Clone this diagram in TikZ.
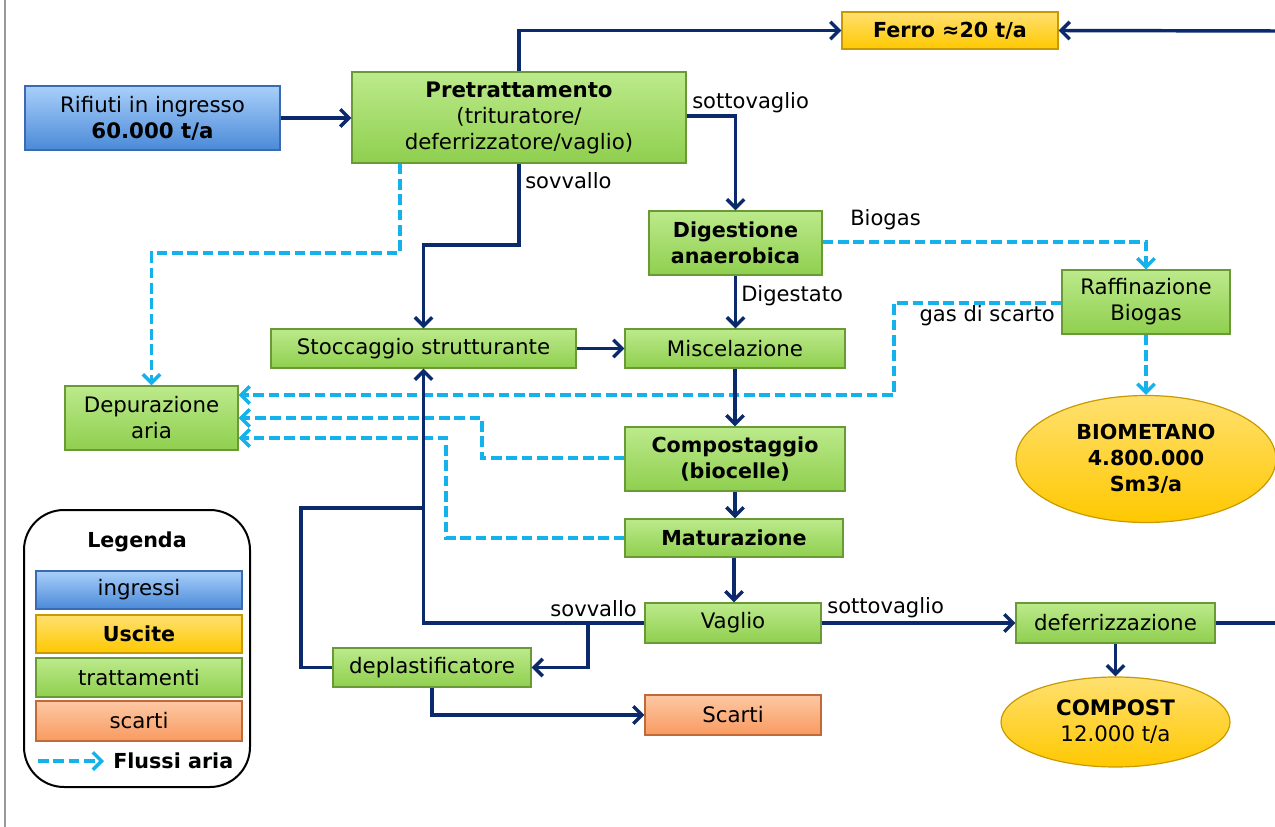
\documentclass[tikz,border=0pt]{standalone}
\usepackage{fontspec}
\setmainfont{DejaVu Sans}
\usetikzlibrary{arrows.meta,shapes.geometric,shadings}
\definecolor{gTop}{HTML}{BCEA8C}
\definecolor{gBot}{HTML}{8FCF4E}
\definecolor{gDraw}{HTML}{6A9A36}
\definecolor{bTop}{HTML}{A9CFFA}
\definecolor{bBot}{HTML}{4A8AD8}
\definecolor{bDraw}{HTML}{3A6AB0}
\definecolor{yTop}{HTML}{FFE070}
\definecolor{yBot}{HTML}{FFC800}
\definecolor{yDraw}{HTML}{C89A00}
\definecolor{oTop}{HTML}{FDC8A4}
\definecolor{oBot}{HTML}{F99A60}
\definecolor{oDraw}{HTML}{C06A3A}
\definecolor{navy}{HTML}{0A2A6B}
\definecolor{airc}{HTML}{14B1EB}
\begin{document}
\begin{tikzpicture}[x=0.75pt,y=-0.75pt,
  font=\fontsize{16}{19.5}\selectfont,
  wh/.style 2 args={minimum width=#1*0.75pt, minimum height=#2*0.75pt},
  box/.style={rectangle, inner sep=1pt, align=center, line width=0.9pt},
  gbox/.style={box, draw=gDraw, top color=gTop, bottom color=gBot},
  bbox/.style={box, draw=bDraw, top color=bTop, bottom color=bBot},
  ybox/.style={box, draw=yDraw, top color=yTop, bottom color=yBot},
  obox/.style={box, draw=oDraw, top color=oTop, bottom color=oBot},
  yell/.style={ellipse, inner sep=0pt, align=center, draw=yDraw, line width=0.9pt, top color=yTop, bottom color=yBot},
  bft/.style={font=\fontsize{15.5}{19.5}\selectfont\bfseries},
  flowline/.style={draw=navy, line width=2.6pt},
  flow/.style={flowline, -{Straight Barb[length=6.5pt,width=13pt]}},
  air/.style={draw=airc, line width=2.6pt, dash pattern=on 8pt off 3.5pt, -{Straight Barb[length=6.5pt,width=13pt]}},
  lbl/.style={inner sep=0pt, font=\fontsize{15.8}{18}\selectfont}
]
\useasboundingbox (0,0) rectangle (1275,827);
\fill[white] (0,0) rectangle (1275,827);
\draw[gray!80, line width=1.5pt] (5,0) -- (5,827);

% nodes
\node[bbox, wh={255}{64}] (rif) at (152.5,118) {Rifiuti in ingresso\\\textbf{60.000 t/a}};
\node[gbox, wh={334}{91}] (pre) at (519,117.5) {\textbf{Pretrattamento}\\(trituratore/\\deferrizzatore/vaglio)};
\node[ybox, wh={216}{37}, bft] (ferro) at (950,30.5) {Ferro ≈20 t/a};
\node[gbox, wh={173}{64}, bft] (dig) at (735.5,243) {Digestione\\anaerobica};
\node[gbox, wh={168}{64}] (raf) at (1146,302) {Raffinazione\\Biogas};
\node[gbox, wh={305}{39}] (sto) at (423.5,348.5) {Stoccaggio strutturante};
\node[gbox, wh={220}{39}] (mis) at (735,348.5) {Miscelazione};
\node[gbox, wh={173}{64}] (dep) at (151.5,418) {Depurazione\\aria};
\node[gbox, wh={220}{64}, bft] (com) at (735,459) {Compostaggio\\(biocelle)};
\node[gbox, wh={218}{38}, bft] (mat) at (734,538) {Maturazione};
\node[gbox, wh={176}{40}] (vag) at (733,623) {Vaglio};
\node[gbox, wh={199}{40}] (def) at (1115.5,623) {deferrizzazione};
\node[gbox, wh={198}{39}] (depl) at (432,667.5) {deplastificatore};
\node[obox, wh={176}{40}] (sca) at (733,715) {Scarti};
\node[yell, wh={260}{127}, bft] (bio) at (1146,459) {BIOMETANO\\4.800.000\\Sm3/a};
\node[yell, wh={229}{90}] (cmp) at (1115.5,722) {\textbf{COMPOST}\\12.000 t/a};

% legend
\draw[black, line width=1.5pt, rounded corners=30pt] (24,510) rectangle (250,787);
\node[bft] (leg) at (137,542) {Legenda};
\node[bbox, wh={206}{38}] (l1) at (139,590) {ingressi};
\node[ybox, wh={206}{38}, bft] (l2) at (139,634) {Uscite};
\node[gbox, wh={206}{39}] (l3) at (139,677.5) {trattamenti};
\node[obox, wh={206}{40}] (l4) at (139,721) {scarti};
\coordinate (la) at (38,761);
\coordinate (lb) at (104,761);
\draw[air] (la) -- (lb);
\node[anchor=west, inner sep=0pt, bft] (l5) at (113,761) {Flussi aria};

% connectors
\draw[flow] (rif.east) -- (rif.east -| pre.west);
\draw[flow] (pre.north) |- (ferro.west);
\coordinate (fe) at (1276,31);
\draw[flow] (fe) -- (ferro.east);

\draw[flow] (pre.east |- 0,116) -| (dig.north);
\node[lbl, anchor=west] (t1) at (692,103) {sottovaglio};

\draw[flow] (pre.south) -- (pre.south |- 0,245) -| (sto.north);
\node[lbl, anchor=west] (t2) at (525,181) {sovvallo};

\draw[air] (pre.south -| 400,0) -- (400,253) -| (dep.north);

\draw[flow] (sto.east) -- (mis.west);
\draw[flow] (dig.south) -- (dig.south |- mis.north);
\node[lbl, anchor=west] (t3) at (741,296) {Digestato};

\draw[air] (dig.east |- 0,242) -| (raf.north);
\node[lbl, anchor=west] (t4) at (850,220) {Biogas};

\draw[air] (raf.west |- 0,303) -- (894,303) -- (894,395) -- (dep.east |- 0,395);
\node[lbl, anchor=east] (t5) at (1055,316) {gas di scarto};

\draw[air] (raf.south) -- (raf.south |- bio.north);

\draw[flow] (mis.south) -- (mis.south |- com.north);
\draw[air] (com.west |- 0,458) -- (482,458) -- (482,418) -- (dep.east |- 0,418);
\draw[flow] (com.south) -- (com.south |- mat.north);
\draw[air] (mat.west) -- (446,538) -- (446,438) -- (dep.east |- 0,438);
\draw[flow] (mat.south) -- (mat.south |- vag.north);

\draw[flow] (vag.east) -- (def.west);
\node[lbl, anchor=west] (t6) at (827,608) {sottovaglio};
\coordinate (de) at (1276,623);
\draw[flowline] (def.east) -- (de);
\draw[flow] (def.south) -- (def.south |- cmp.north);

\draw[flow] (vag.west) -| (sto.south);
\node[lbl, anchor=east] (t7) at (637,609) {sovvallo};
\coordinate (j1) at (588,623);
\draw[flow] (j1) |- (depl.east);
\coordinate (j2) at (423.5,508);
\draw[flowline] (depl.west) -- (301,667.5) -- (301,508) -- (j2);
\draw[flow] (depl.south) |- (sca.west);
\end{tikzpicture}
\end{document}
